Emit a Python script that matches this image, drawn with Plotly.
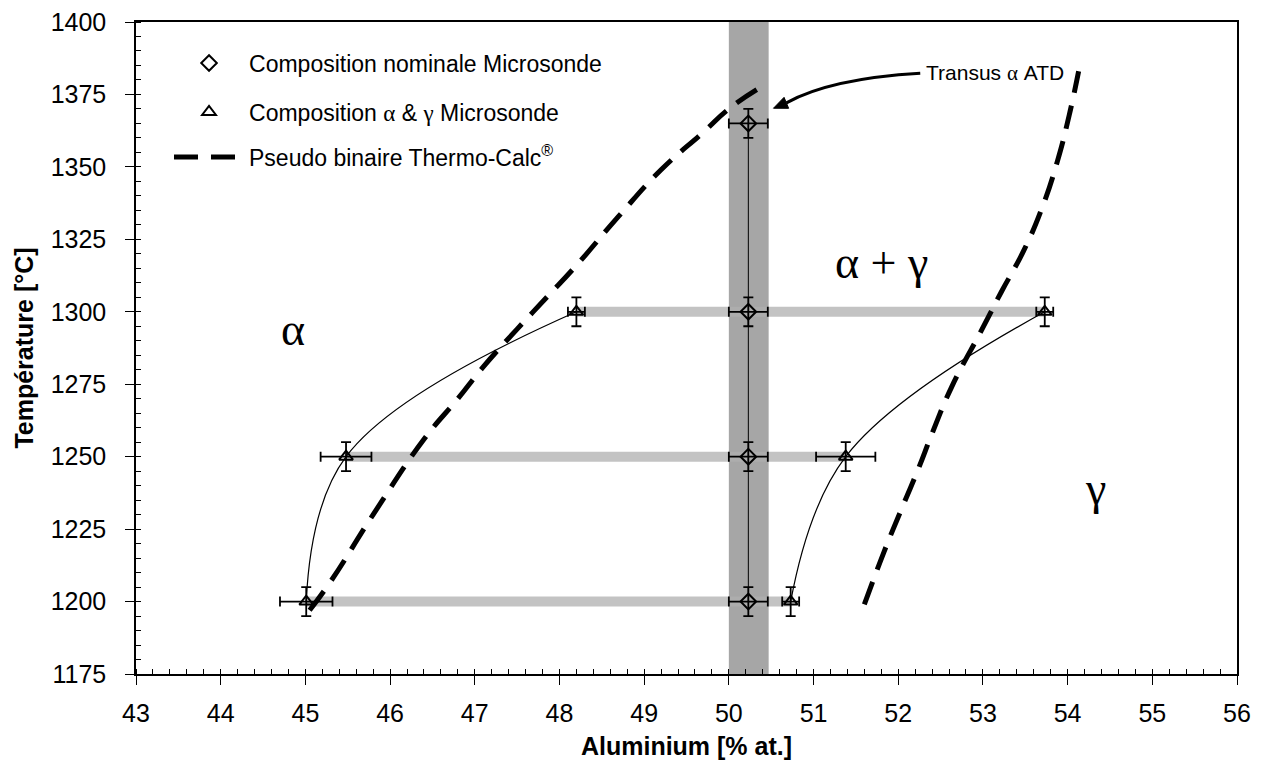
import plotly.graph_objects as go

# ---------------- data ----------------
nominal_x = [50.23, 50.23, 50.23, 50.23]
nominal_T = [1200, 1250, 1300, 1365]
nominal_xerr = [0.23, 0.23, 0.23, 0.23]
nominal_Terr = [5, 5, 5, 5]

alpha_x = [45.01, 45.48, 48.20]
alpha_T = [1200, 1250, 1300]
alpha_xerr = [0.31, 0.30, 0.10]
alpha_Terr = [5, 5, 5]

gamma_x = [50.73, 51.38, 53.73]
gamma_T = [1200, 1250, 1300]
gamma_xerr = [0.10, 0.35, 0.10]
gamma_Terr = [5, 5, 5]

tc_alpha_x = [45.05, 45.30, 45.80, 46.40, 46.80, 47.10, 47.50, 47.85, 48.20, 48.70, 49.20, 49.70, 50.00, 50.35]
tc_alpha_T = [1197, 1207, 1230, 1256, 1270, 1281, 1294, 1305, 1316, 1333, 1349, 1362, 1370, 1377]

tc_gamma_x = [51.60, 51.83, 52.04, 52.24, 52.40, 52.63, 52.99, 53.22, 53.48, 53.70, 53.88, 54.02, 54.13]
tc_gamma_T = [1199, 1217, 1232, 1246, 1258, 1274, 1294, 1307, 1321, 1336, 1352, 1368, 1383]

band_x = [50.0, 50.47]          # Transus alpha ATD band
x_range = [43, 56]
T_range = [1175, 1400]

FONT = "Liberation Sans, Arial, sans-serif"
SERIF = "Liberation Serif, Times New Roman, serif"

fig = go.Figure()

# grey band
fig.add_shape(type="rect", xref="x", yref="paper", x0=band_x[0], x1=band_x[1], y0=0, y1=1,
              fillcolor="#a6a6a6", line=dict(width=0), layer="below")

# tie lines
for xa, xg, t in zip(alpha_x, gamma_x, alpha_T):
    fig.add_trace(go.Scatter(x=[xa, xg], y=[t, t], mode="lines",
                             line=dict(color="rgba(175,175,175,0.75)", width=10),
                             showlegend=False, hoverinfo="skip"))

# thin boundary curves through measured points
fig.add_trace(go.Scatter(x=alpha_x, y=alpha_T, mode="lines",
                         line=dict(color="black", width=1.2, shape="spline", smoothing=1.1),
                         showlegend=False, hoverinfo="skip"))
fig.add_trace(go.Scatter(x=gamma_x, y=gamma_T, mode="lines",
                         line=dict(color="black", width=1.2, shape="spline", smoothing=1.1),
                         showlegend=False, hoverinfo="skip"))

# Thermo-Calc dashed lines
dash = "24px,13px"
fig.add_trace(go.Scatter(x=tc_alpha_x, y=tc_alpha_T, mode="lines",
                         line=dict(color="black", width=5, dash=dash, shape="spline", smoothing=1.3),
                         name="Pseudo binaire Thermo-Calc<sup>®</sup>", legend="legend3"))
fig.add_trace(go.Scatter(x=tc_gamma_x, y=tc_gamma_T, mode="lines",
                         line=dict(color="black", width=5, dash=dash, shape="spline", smoothing=1.3),
                         showlegend=False))

# nominal composition: connecting line + diamonds
fig.add_trace(go.Scatter(x=nominal_x, y=nominal_T, mode="lines",
                         line=dict(color="black", width=1), showlegend=False, hoverinfo="skip"))
fig.add_trace(go.Scatter(x=nominal_x, y=nominal_T, mode="markers",
                         marker=dict(symbol="diamond-open", size=12, color="black", line=dict(width=2)),
                         error_x=dict(type="data", array=nominal_xerr, color="black", thickness=1.8, width=5),
                         error_y=dict(type="data", array=nominal_Terr, color="black", thickness=1.8, width=5),
                         name="Composition nominale Microsonde", legend="legend"))

# alpha & gamma compositions (triangles)
fig.add_trace(go.Scatter(x=alpha_x, y=alpha_T, mode="markers",
                         marker=dict(symbol="triangle-up-open", size=12, color="black", line=dict(width=2)),
                         error_x=dict(type="data", array=alpha_xerr, color="black", thickness=1.8, width=5),
                         error_y=dict(type="data", array=alpha_Terr, color="black", thickness=1.8, width=5),
                         name="Composition <span style='font-family:Liberation Serif'>α</span> &amp; "
                              "<span style='font-family:Liberation Serif'>γ</span> Microsonde",
                         legend="legend2"))
fig.add_trace(go.Scatter(x=gamma_x, y=gamma_T, mode="markers",
                         marker=dict(symbol="triangle-up-open", size=12, color="black", line=dict(width=2)),
                         error_x=dict(type="data", array=gamma_xerr, color="black", thickness=1.8, width=5),
                         error_y=dict(type="data", array=gamma_Terr, color="black", thickness=1.8, width=5),
                         showlegend=False))

# phase labels
fig.add_annotation(x=44.85, y=1294, text="α", showarrow=False, font=dict(family=SERIF, size=46, color="black"))
fig.add_annotation(x=51.8, y=1317, text="α + γ", showarrow=False, font=dict(family=SERIF, size=46, color="black"))
fig.add_annotation(x=54.33, y=1239, text="γ", showarrow=False, font=dict(family=SERIF, size=46, color="black"))

# Transus annotation with curved arrow
fig.add_annotation(x=52.31, y=1382.3, text="Transus <span style='font-family:Liberation Serif'>α</span> ATD",
                   showarrow=False, xanchor="left", yanchor="middle",
                   font=dict(family=FONT, size=21, color="black"))
fig.add_shape(type="path", xref="x", yref="y",
              path="M 52.26 1382.3 Q 51.2 1380.5 50.68 1372.1",
              line=dict(color="black", width=3))
fig.add_shape(type="path", xref="x", yref="y",
              path="M 50.527 1370.24 L 50.706 1370.21 L 50.652 1374.0 Z",
              fillcolor="black", line=dict(color="black", width=1))

# page body has an 8px margin -> shift figure margins accordingly
leg_common = dict(font=dict(family=FONT, size=23, color="black"), bgcolor="rgba(0,0,0,0)",
                  xanchor="left", yanchor="middle", x=0.03, itemwidth=70)
fig.update_layout(
    width=1249, height=752,
    margin=dict(l=128, r=20, t=14, b=86, autoexpand=False),
    paper_bgcolor="white", plot_bgcolor="white",
    font=dict(family=FONT, size=25, color="black"),
    legend=dict(y=0.937, **leg_common),
    legend2=dict(y=0.862, **leg_common),
    legend3=dict(y=0.793, **leg_common),
    xaxis=dict(range=x_range, dtick=1, showgrid=False, zeroline=False, automargin=False,
               showline=True, linecolor="black", linewidth=1.5, mirror=True,
               ticks="outside", ticklen=9, tickwidth=1.2, tickcolor="black",
               tickfont=dict(size=25), ticklabelstandoff=7, ticklabeloverflow="allow",
               minor=dict(ticks="inside", dtick=0.2, ticklen=5, tickcolor="black", showgrid=False),
               title=dict(text="<b>Aluminium [% at.]</b>", font=dict(size=25), standoff=18)),
    yaxis=dict(range=T_range, dtick=25, showgrid=False, zeroline=False, automargin=False,
               showline=True, linecolor="black", linewidth=1.5, mirror=True,
               ticks="outside", ticklen=9, tickwidth=1.2, tickcolor="black",
               tickfont=dict(size=25), ticklabelstandoff=14, ticklabeloverflow="allow",
               minor=dict(ticks="inside", dtick=5, ticklen=5, tickcolor="black", showgrid=False),
               title=dict(text="<b>Température [°C]</b>", font=dict(size=25), standoff=10)),
)

fig.write_html("out.html")
